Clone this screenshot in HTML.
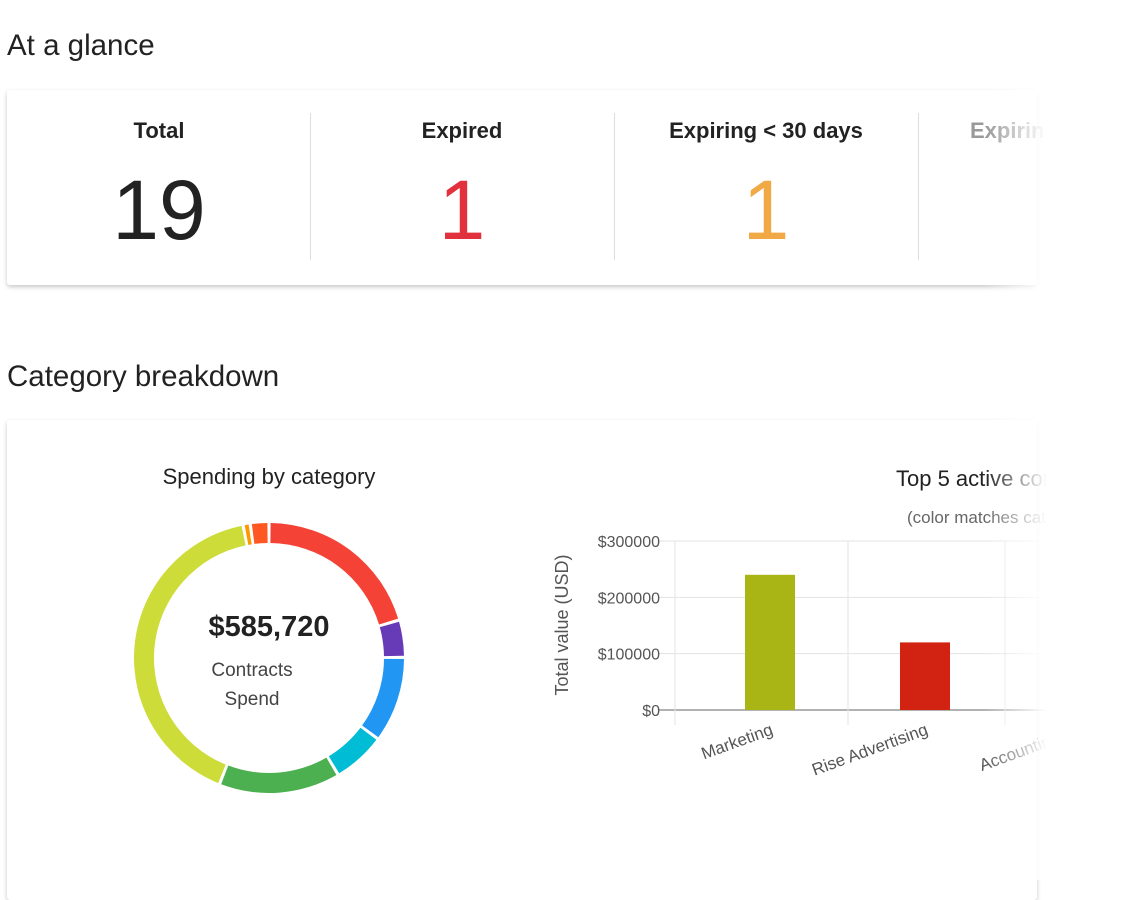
<!DOCTYPE html>
<html><head><meta charset="utf-8"><style>
body{margin:0;width:1132px;height:880px;background:#fff;font-family:"Liberation Sans",sans-serif;position:relative;overflow:hidden;color:#222}
.h{position:absolute;left:7px;font-size:29.5px;color:#222}
.card{position:absolute;left:7px;width:1030px;background:#fff;box-shadow:0 2px 5px rgba(0,0,0,.22);border-radius:3px}
.col{position:absolute;top:0;width:304px;text-align:center}
.col .t{position:absolute;top:28px;width:100%;font-size:22px;font-weight:bold;color:#222}
.col .n{position:absolute;top:70px;width:100%;font-size:84px;font-weight:300;line-height:100px}
.div{position:absolute;top:23px;height:147px;width:1px;background:#ddd}
.fade{position:absolute;left:985px;top:0;width:147px;height:880px;background:linear-gradient(to right,rgba(255,255,255,0),#fff 62px)}
</style></head><body>
<div class="h" style="top:29px">At a glance</div>
<div class="card" style="top:90px;height:195px">
 <div class="col" style="left:0"><div class="t">Total</div><div class="n" style="color:#222">19</div></div>
 <div class="div" style="left:303px"></div>
 <div class="col" style="left:303px"><div class="t">Expired</div><div class="n" style="color:#e0313d">1</div></div>
 <div class="div" style="left:607px"></div>
 <div class="col" style="left:607px"><div class="t">Expiring &lt; 30 days</div><div class="n" style="color:#f0a944">1</div></div>
 <div class="div" style="left:911px"></div>
 <div class="col" style="left:911px"><div class="t" style="color:#999;text-align:left;left:52px">Expiring</div></div>
</div>
<div class="h" style="top:360px">Category breakdown</div>
<div class="card" style="top:420px;height:480px"></div>
<svg id="svg" width="1132" height="880" style="position:absolute;left:0;top:0"></svg>
<div class="fade"></div>
<script>
const donutLabels=["Rise Advertising","Design","IT","Facilities","Operations","Marketing","Legal","Travel"];
const donutValues=[120000,26000,60000,37000,84720,240000,5000,13000];
const donutColors=["#f44336","#673ab7","#2196f3","#00bcd4","#4caf50","#cddc39","#ff9800","#ff5722"];
const barCats=["Marketing","Rise Advertising","Accounting Sy"];
const barValues=[240000,120000,0];
const barColors=["#a8b514","#d12212","#ccc"];
const yTicks=[0,100000,200000,300000];
const yTickLabels=["$0","$100000","$200000","$300000"];
const NS="http://www.w3.org/2000/svg",svg=document.getElementById('svg');
function mk(t,a,p){const e=document.createElementNS(NS,t);for(const k in a)e.setAttribute(k,a[k]);(p||svg).appendChild(e);return e;}
const cx=269,cy=658,R=135,r=115,tot=donutValues.reduce((a,b)=>a+b,0);
function pt(rad,ang){return [cx+rad*Math.sin(ang),cy-rad*Math.cos(ang)];}
let a0=0;
donutValues.forEach((v,i)=>{const a1=a0+v/tot*2*Math.PI;const g=0.012;const s=a0+g,e=a1-g;const L=(e-s)>Math.PI?1:0;
const p1=pt(R,s),p2=pt(R,e),p3=pt(r,e),p4=pt(r,s);
const el=mk('path',{d:`M${p1} A${R},${R} 0 ${L} 1 ${p2} L${p3} A${r},${r} 0 ${L} 0 ${p4}Z`,fill:donutColors[i]});


a0=a1;});
let t=mk('text',{x:269,y:484,'text-anchor':'middle','font-size':22,fill:'#222'});t.textContent="Spending by category";

t=mk('text',{x:269,y:636,'text-anchor':'middle','font-size':29,'font-weight':'bold',fill:'#222'});t.textContent="$585,720";

t=mk('text',{x:252,y:676,'text-anchor':'middle','font-size':19,fill:'#444'});t.textContent="Contracts";

t=mk('text',{x:252,y:705,'text-anchor':'middle','font-size':19,fill:'#444'});t.textContent="Spend";

const y0=710,y1=541,ymax=300000,bc0=770,bw=155;
const ys=v=>y0-(v/ymax)*(y0-y1);
const xs=i=>bc0+bw*i;
t=mk('text',{x:896,y:486,'font-size':22,fill:'#222'});t.textContent="Top 5 active contracts";

t=mk('text',{x:907,y:523,'font-size':17,fill:'#666'});t.textContent="(color matches category)";

yTicks.forEach((v,i)=>{mk('line',{x1:658,x2:1132,y1:ys(v),y2:ys(v),stroke:i==0?'#999':'#e3e3e3','stroke-width':i==0?1.5:1});
const tx=mk('text',{x:660,y:ys(v)+6,'text-anchor':'end','font-size':16,fill:'#555'});tx.textContent=yTickLabels[i];
});
[675,848,1005].forEach(x=>mk('line',{x1:x,x2:x,y1:y1,y2:725,stroke:'#e3e3e3'}));
barCats.forEach((c,i)=>{const v=barValues[i];
const b=mk('rect',{x:xs(i)-25,y:ys(v),width:50,height:y0-ys(v),fill:barColors[i]});

const lx=xs(i)+4,ly=734;
const tx=mk('text',{x:lx,y:ly,'text-anchor':'end','font-size':17,fill:'#555',transform:`rotate(-20 ${lx} ${ly})`});tx.textContent=c;
});
t=mk('text',{x:568,y:625,'text-anchor':'middle','font-size':18,fill:'#555',transform:'rotate(-90 568 625)'});t.textContent="Total value (USD)";

</script>
</body></html>
